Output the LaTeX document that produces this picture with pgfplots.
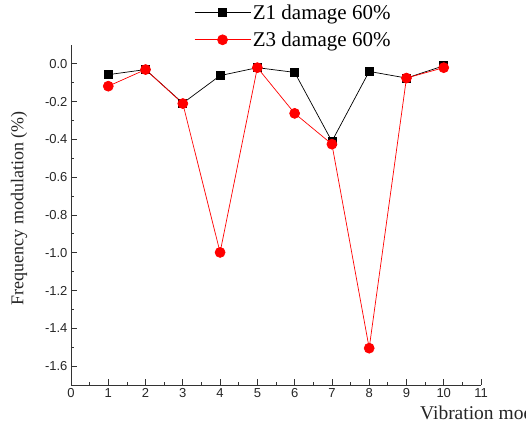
\documentclass[border=0pt]{standalone}
\usepackage{pgfplots}
\pgfplotsset{compat=1.18}
\usepackage{fontspec}
\setmainfont{Liberation Serif}
\newfontfamily\arial{Liberation Sans}
\begin{document}
\begin{tikzpicture}
\begin{axis}[
  scale only axis,
  width=410pt, height=340pt,
  xmin=0, xmax=11, ymin=-1.7, ymax=0.1,
  axis x line*=bottom, axis y line*=left,
  axis line style={line width=0.8pt, color=black!80},
  xtick={0,1,...,11},
  ytick={-1.6,-1.4,...,0},
  minor x tick num=1, minor y tick num=1,
  tick align=inside,
  major tick length=6pt, minor tick length=3.5pt,
  tick style={line width=0.8pt, color=black!80},
  /pgf/number format/assume math mode=true,
  ticklabel style={font=\arial\fontsize{13}{15}\selectfont, text=black!85},
  yticklabel style={/pgf/number format/.cd, fixed, fixed zerofill, precision=1},
  xlabel={Vibration mode},
  ylabel={Frequency modulation (\%)},
  label style={font=\fontsize{18}{20}\selectfont, text=black!85},
  xlabel style={font=\fontsize{19.5}{21}\selectfont, at={(axis description cs:0.843,-0.052)}, anchor=north west},
  ylabel style={at={(axis description cs:-0.098,0.52)}, anchor=south},
  legend style={at={(0.30,1.125)}, anchor=north west, draw=none, fill=none,
    font=\fontsize{21}{23}\selectfont, row sep=7pt, inner sep=0pt},
  legend cell align=left,
  legend image code/.code={
    \draw[mark repeat=2, mark phase=2] plot coordinates {(0pt,0pt) (28pt,0pt) (56pt,0pt)};
  },
  clip=false,
]
\addplot[black, line width=0.7pt, mark=square*, mark size=4pt, mark options={solid, fill=black}]
coordinates {(1,-0.057) (2,-0.030) (3,-0.208) (4,-0.062) (5,-0.020) (6,-0.045) (7,-0.410) (8,-0.040) (9,-0.075) (10,-0.010)};
\addlegendentry{Z1 damage 60\%}
\addplot[red, line width=0.7pt, mark=*, mark size=5pt, mark options={solid, fill=red, draw=red}]
coordinates {(1,-0.118) (2,-0.030) (3,-0.210) (4,-0.998) (5,-0.020) (6,-0.262) (7,-0.425) (8,-1.505) (9,-0.075) (10,-0.020)};
\addlegendentry{Z3 damage 60\%}
\coordinate (bl) at (rel axis cs:0,0);
\coordinate (tr) at (rel axis cs:1,1);
\end{axis}
\pgfresetboundingbox
\path[use as bounding box] ([shift={(-71pt,-43pt)}]bl) rectangle ([shift={(45pt,45pt)}]tr);
\end{tikzpicture}
\end{document}
